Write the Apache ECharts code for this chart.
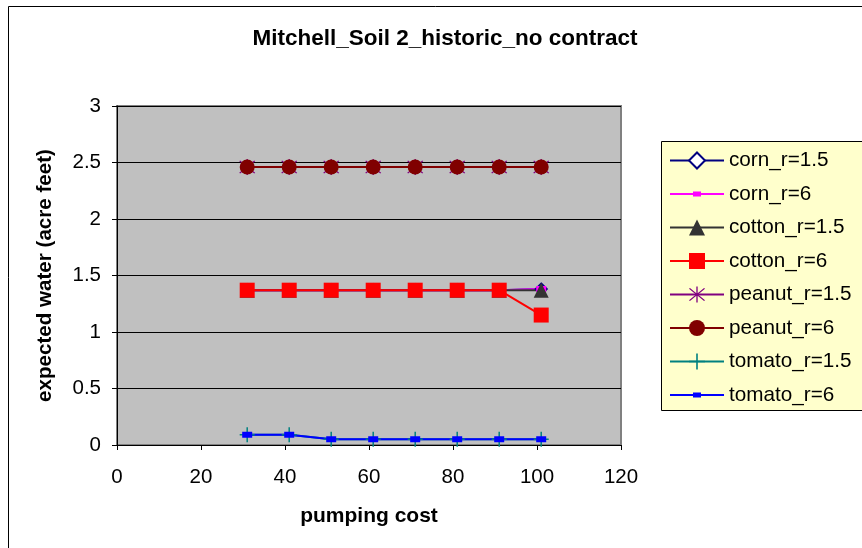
<!DOCTYPE html>
<html><head><meta charset="utf-8">
<script src="https://cdn.jsdelivr.net/npm/echarts@6/dist/echarts.min.js"></script>
<style>html,body{margin:0;padding:0;background:#fff}#c{width:862px;height:548px}</style>
</head><body><div id="c"></div>
<script>
const pumpingCost = [31, 41, 51, 61, 71, 81, 91, 101];
const cornR15   = [1.37, 1.37, 1.37, 1.37, 1.37, 1.37, 1.37, 1.38];
const cornR6    = [1.37, 1.37, 1.37, 1.37, 1.37, 1.37, 1.37, 1.38];
const cottonR15 = [1.37, 1.37, 1.37, 1.37, 1.37, 1.37, 1.37, 1.37];
const cottonR6  = [1.37, 1.37, 1.37, 1.37, 1.37, 1.37, 1.37, 1.15];
const peanutR15 = [2.46, 2.46, 2.46, 2.46, 2.46, 2.46, 2.46, 2.46];
const peanutR6  = [2.46, 2.46, 2.46, 2.46, 2.46, 2.46, 2.46, 2.46];
const tomatoR15 = [0.09, 0.09, 0.05, 0.05, 0.05, 0.05, 0.05, 0.05];
const tomatoR6  = [0.09, 0.09, 0.05, 0.05, 0.05, 0.05, 0.05, 0.05];
const seriesNames = ['corn_r=1.5','corn_r=6','cotton_r=1.5','cotton_r=6','peanut_r=1.5','peanut_r=6','tomato_r=1.5','tomato_r=6'];

const FONT = '"Liberation Sans", Arial, sans-serif';
const asterisk = 'path://M-0.7,-10 L0.7,-10 L0.7,-1.6 L7.4,-8.1 L8.4,-7.1 L1.7,-0.6 L1.7,0.6 L8.4,7.1 L7.4,8.1 L0.7,1.6 L0.7,10 L-0.7,10 L-0.7,1.6 L-7.4,8.1 L-8.4,7.1 L-1.7,0.6 L-1.7,-0.6 L-8.4,-7.1 L-7.4,-8.1 L-0.7,-1.6 Z';
const plus = 'path://M-1,-10 L1,-10 L1,-1 L10,-1 L10,1 L1,1 L1,10 L-1,10 L-1,1 L-10,1 L-10,-1 L-1,-1 Z';
const smallRect = 'path://M-10,-10 Z M10,10 Z M-5,-3 L5,-3 L5,3 L-5,3 Z';

function pts(arr){ return pumpingCost.map((x,i)=>[x, arr[i]]); }
function s(name, arr, color, symbol, size, extra){
  return Object.assign({
    name, type:'line', data: pts(arr), symbol, symbolSize: size,
    lineStyle:{color, width:2}, itemStyle:{color, borderColor:color, borderWidth:0},
    showAllSymbol:true, animation:false, z:2
  }, extra||{});
}

const chart = echarts.init(document.getElementById('c'), null, {renderer:'canvas'});
chart.setOption({
  backgroundColor:'#fff',
  animation:false,
  title:{text:'Mitchell_Soil 2_historic_no contract', left:440, textAlign:'center', top:22,
    textStyle:{fontFamily:FONT, fontSize:22.5, fontWeight:'bold', color:'#000'}},
  graphic:[
    {type:'rect', shape:{x:8.5, y:6.5, width:900, height:600}, style:{fill:'none', stroke:'#000', lineWidth:1}, z:-10},
    {type:'rect', shape:{x:661.5, y:141.5, width:260, height:269}, style:{fill:'#FFFFCC', stroke:'#000', lineWidth:1}, z:-5}
  ],
  grid:{left:117, right:241, top:106, bottom:103, show:true, backgroundColor:'#C0C0C0', borderColor:'#808080', borderWidth:2},
  legend:{
    left:669, top:150, padding:0, orient:'vertical', itemWidth:54, itemHeight:20, itemGap:12.5,
    textStyle:{fontFamily:FONT, fontSize:20.7, lineHeight:20, color:'#000'},
    data: seriesNames
  },
  xAxis:{type:'value', min:0, max:120, interval:20,
    axisLine:{show:true, onZero:false, lineStyle:{color:'#000', width:1}},
    axisTick:{show:true, length:5, lineStyle:{color:'#000'}},
    axisLabel:{fontFamily:FONT, fontSize:20.5, color:'#000', margin:22},
    splitLine:{show:false},
    name:'pumping cost', nameLocation:'middle', nameGap:61,
    nameTextStyle:{fontFamily:FONT, fontSize:21, fontWeight:'bold', color:'#000'}
  },
  yAxis:{type:'value', min:0, max:3, interval:0.5,
    axisLine:{show:true, lineStyle:{color:'#000', width:1}},
    axisTick:{show:true, length:5, lineStyle:{color:'#000'}},
    axisLabel:{fontFamily:FONT, fontSize:20.5, color:'#000', margin:16},
    splitLine:{show:true, lineStyle:{color:'#000', width:1}},
    name:'expected water (acre feet)', nameLocation:'middle', nameGap:61,
    nameTextStyle:{fontFamily:FONT, fontSize:20.6, fontWeight:'bold', color:'#000'}
  },
  series:[
    s(seriesNames[0], cornR15, '#000080', 'diamond', 11, {itemStyle:{color:'#fff', borderColor:'#000080', borderWidth:2}}),
    s(seriesNames[1], cornR6, '#FF00FF', smallRect, 20),
    s(seriesNames[2], cottonR15, '#333333', 'triangle', 15),
    s(seriesNames[3], cottonR6, '#FF0000', 'rect', 15),
    s(seriesNames[4], peanutR15, '#800080', asterisk, 16),
    s(seriesNames[5], peanutR6, '#800000', 'circle', 15),
    s(seriesNames[6], tomatoR15, '#008080', plus, 15),
    s(seriesNames[7], tomatoR6, '#0000FF', smallRect, 20)
  ]
});
</script></body></html>
